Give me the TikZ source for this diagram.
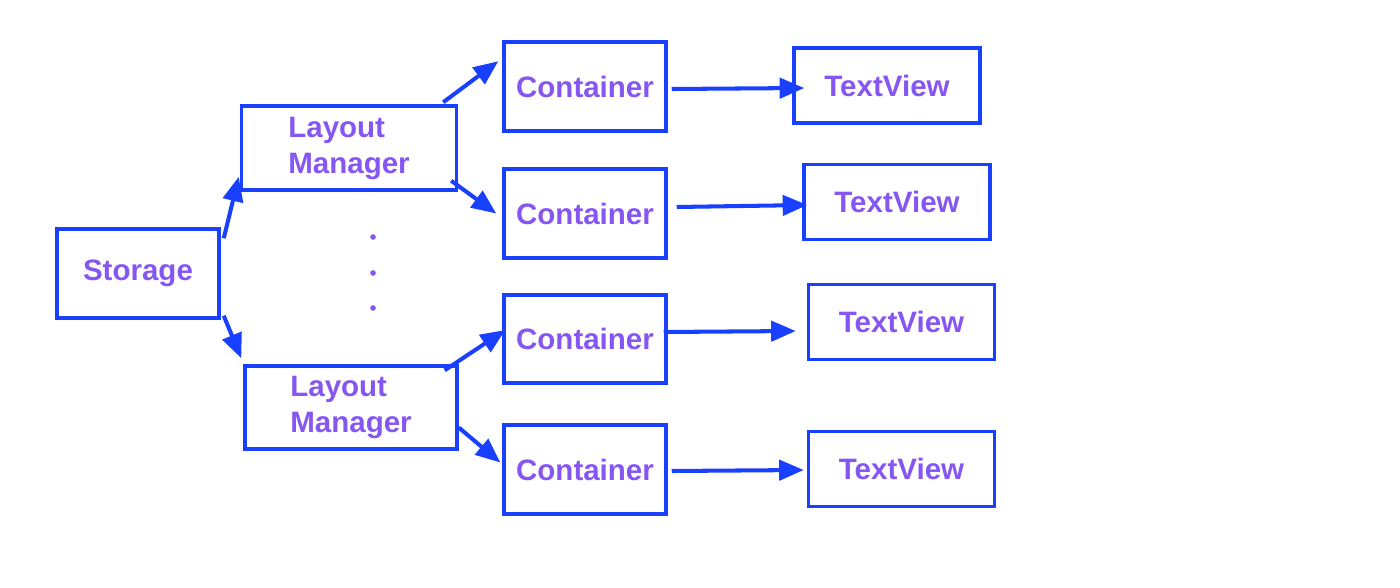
\documentclass[tikz,border=0pt]{standalone}
\usepackage{fontspec}
\setmainfont{Liberation Sans}
\usetikzlibrary{arrows.meta, calc}
\definecolor{boxBlue}{HTML}{1A40FF}
\definecolor{textPurple}{HTML}{8656F2}

\begin{document}
\begin{tikzpicture}[
    x=0.02cm, y=-0.02cm,
    every node/.style={draw=boxBlue, line width=2pt, text=textPurple, align=left,
        font=\fontsize{16.8}{20.5}\selectfont\bfseries},
    box/.style={minimum width=3.24cm, minimum height=1.78cm},
    lmbox/.style={minimum width=4.3cm, minimum height=1.68cm},
    tvbox/.style={minimum width=3.72cm, minimum height=1.5cm},
    link/.style={draw=boxBlue, line width=2.3pt, -{Triangle[length=14pt,width=11.5pt]}}
]
    \useasboundingbox (0,0) rectangle (1400,588);

    \node[box] (St) at (138,273.5) {Storage};
    \node[lmbox] (LM1) at (349,148) {Layout\\Manager};
    \node[lmbox, minimum width=4.24cm, minimum height=1.66cm] (LM2) at (351,407.5) {Layout\\Manager};

    \node[box] (C1) at (585,86.5) {Container};
    \node[box] (C2) at (585,213.5) {Container};
    \node[box, minimum height=1.76cm] (C3) at (585,339) {Container};
    \node[box] (C4) at (585,469.5) {Container};

    \node[tvbox] (T1) at (887,85.5) {TextView};
    \node[tvbox] (T2) at (897,202) {TextView};
    \node[tvbox] (T3) at (901.5,322) {TextView};
    \node[tvbox] (T4) at (901.5,469) {TextView};

    % the dots between the two layout managers
    \fill[textPurple] (373,237) circle[radius=1.6pt];
    \fill[textPurple] (373,273) circle[radius=1.6pt];
    \fill[textPurple] (373,308) circle[radius=1.6pt];

    % storage to layout managers
    \draw[link] ($(St.north east)+(3,11)$) -- ($(LM1.south west)+(-1,-15)$);
    \draw[link] ($(St.south east)+(3,-4)$) -- ($(LM2.north west)+(-2,-6)$);

    % layout managers to containers
    \draw[link] ($(LM1.north east)+(-15,-2)$) -- ($(C1.north west)+(-4,21)$);
    \draw[link] ($(LM1.south east)+(-7,-11)$) -- ($(C2.west)+(-6,0)$);
    \draw[link] ($(LM2.north east)+(-14,6)$) -- ($(C3.west)+(3,-9)$);
    \draw[link] ($(LM2.east)+(0,20)$) -- ($(C4.west)+(-2,-7)$);

    % containers to text views
    \draw[link] ($(C1.east)+(4,2.5)$) -- ($(T1.west)+(12,2.5)$);
    \draw[link] ($(C2.east)+(9,-6.5)$) -- ($(T2.west)+(5,3)$);
    \draw[link] ($(C3.east)+(-4,-7)$) -- ($(T3.west)+(-11,9)$);
    \draw[link] ($(C4.east)+(4,1.5)$) -- ($(T4.west)+(-3,1)$);
\end{tikzpicture}
\end{document}
